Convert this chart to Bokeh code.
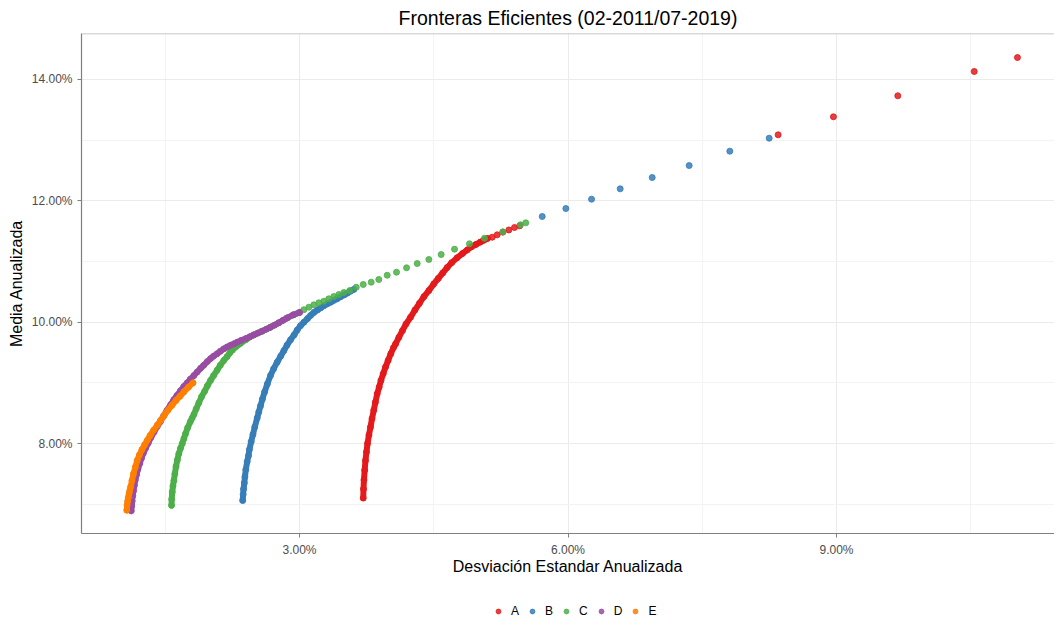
from bokeh.plotting import figure
from bokeh.layouts import column
from bokeh.models import (ColumnDataSource, FixedTicker, CustomJSTickFormatter,
                          Legend, LegendItem, Span, Range1d)
from bokeh.embed import file_html
from bokeh.resources import INLINE

# ---------------- data (annualised std dev %, annualised mean %) ----------------
series_names = ["A", "B", "C", "D", "E"]
series_colors = ["#E41A1C", "#377EB8", "#4DAF4A", "#984EA3", "#FF7F00"]

a_curve = [(3.712, 7.10), (3.715, 7.25), (3.72, 7.40), (3.728, 7.56), (3.737, 7.72),
           (3.748, 7.86), (3.76, 8.00), (3.776, 8.14), (3.793, 8.27), (3.81, 8.41),
           (3.83, 8.55), (3.848, 8.68), (3.868, 8.82), (3.89, 8.93), (3.91, 9.04),
           (3.935, 9.15), (3.961, 9.26), (3.99, 9.37), (4.02, 9.48), (4.05, 9.58),
           (4.073, 9.64), (4.11, 9.75), (4.15, 9.86), (4.19, 9.97), (4.24, 10.08),
           (4.29, 10.20), (4.34, 10.31), (4.39, 10.42), (4.445, 10.52), (4.50, 10.63),
           (4.55, 10.72), (4.60, 10.81), (4.65, 10.90), (4.70, 10.98), (4.76, 11.06),
           (4.82, 11.13), (4.874, 11.19), (4.92, 11.24), (4.97, 11.28), (5.02, 11.32),
           (5.059, 11.35), (5.10, 11.38)]
a_points = [(5.153, 11.40), (5.209, 11.44), (5.272, 11.484), (5.339, 11.52),
            (5.402, 11.56), (5.461, 11.588), (8.348, 13.088), (8.966, 13.385),
            (9.685, 13.731), (10.539, 14.132), (11.022, 14.362)]

b_curve = [(2.365, 7.06), (2.37, 7.16), (2.375, 7.25), (2.383, 7.35), (2.39, 7.45),
           (2.40, 7.57), (2.415, 7.70), (2.43, 7.80), (2.44, 7.90), (2.46, 8.03),
           (2.48, 8.15), (2.50, 8.27), (2.527, 8.42), (2.545, 8.52), (2.564, 8.62),
           (2.585, 8.73), (2.61, 8.85), (2.64, 8.98), (2.676, 9.12), (2.71, 9.23),
           (2.75, 9.34), (2.79, 9.44), (2.825, 9.53), (2.86, 9.62), (2.90, 9.71),
           (2.94, 9.79), (2.974, 9.87), (3.01, 9.94), (3.05, 10.00), (3.09, 10.06),
           (3.123, 10.11), (3.16, 10.16), (3.20, 10.20), (3.235, 10.235), (3.272, 10.27),
           (3.31, 10.30), (3.35, 10.33), (3.385, 10.36), (3.42, 10.385), (3.46, 10.42),
           (3.50, 10.45), (3.535, 10.48), (3.57, 10.51), (3.607, 10.54)]
b_points = [(5.712, 11.742), (5.976, 11.873), (6.263, 12.027), (6.583, 12.198),
            (6.941, 12.384), (7.354, 12.582), (7.808, 12.818), (8.248, 13.032)]

c_curve = [(1.570, 6.98), (1.572, 7.08), (1.578, 7.20), (1.586, 7.30), (1.596, 7.39),
           (1.607, 7.50), (1.62, 7.62), (1.635, 7.73), (1.651, 7.83), (1.67, 7.92),
           (1.69, 8.00), (1.708, 8.08), (1.726, 8.16), (1.75, 8.26), (1.78, 8.36),
           (1.80, 8.42), (1.82, 8.48), (1.845, 8.57), (1.875, 8.67), (1.905, 8.77),
           (1.94, 8.86), (1.97, 8.95), (2.006, 9.04), (2.04, 9.12), (2.08, 9.21),
           (2.115, 9.29), (2.154, 9.37), (2.19, 9.43), (2.22, 9.49), (2.25, 9.54),
           (2.285, 9.59), (2.31, 9.62), (2.34, 9.65), (2.40, 9.71), (2.489, 9.79),
           (2.58, 9.85), (2.676, 9.917), (2.77, 9.99), (2.862, 10.07), (2.93, 10.12),
           (3.0, 10.16)]
c_points = [(3.048, 10.204), (3.104, 10.247), (3.160, 10.286), (3.216, 10.319),
            (3.272, 10.346), (3.327, 10.385), (3.383, 10.423), (3.439, 10.456),
            (3.495, 10.489), (3.562, 10.522), (3.634, 10.576), (3.712, 10.621),
            (3.801, 10.659), (3.886, 10.703), (3.980, 10.774), (4.084, 10.823),
            (4.196, 10.896), (4.315, 10.967), (4.445, 11.033), (4.583, 11.115),
            (4.732, 11.203), (4.899, 11.292), (5.067, 11.384), (5.272, 11.489),
            (5.469, 11.605), (5.528, 11.638)]

d_curve = [(1.12, 6.89), (1.125, 6.97), (1.13, 7.05), (1.137, 7.14), (1.145, 7.22),
           (1.155, 7.31), (1.165, 7.40), (1.18, 7.49), (1.195, 7.58), (1.215, 7.67),
           (1.235, 7.76), (1.255, 7.84), (1.28, 7.92), (1.31, 8.01), (1.34, 8.10),
           (1.375, 8.19), (1.41, 8.28), (1.445, 8.36), (1.48, 8.45), (1.52, 8.55),
           (1.56, 8.64), (1.595, 8.72), (1.63, 8.79), (1.67, 8.87), (1.707, 8.94),
           (1.745, 9.00), (1.78, 9.06), (1.82, 9.12), (1.857, 9.18), (1.895, 9.24),
           (1.93, 9.29), (1.97, 9.35), (2.006, 9.40), (2.04, 9.44), (2.08, 9.48),
           (2.115, 9.52), (2.154, 9.56), (2.19, 9.59), (2.23, 9.62), (2.27, 9.645),
           (2.304, 9.67), (2.35, 9.70), (2.40, 9.73), (2.445, 9.76), (2.489, 9.79),
           (2.535, 9.82), (2.58, 9.85), (2.63, 9.885), (2.676, 9.917), (2.72, 9.95),
           (2.77, 9.99), (2.815, 10.03), (2.862, 10.07), (2.93, 10.12), (3.0, 10.16)]
d_points = []

e_curve = [(1.07, 6.90), (1.073, 6.98), (1.08, 7.05), (1.087, 7.11), (1.095, 7.17),
           (1.103, 7.22), (1.112, 7.28), (1.128, 7.39), (1.145, 7.50), (1.165, 7.61),
           (1.186, 7.72), (1.21, 7.81), (1.24, 7.90), (1.27, 7.98), (1.298, 8.05),
           (1.33, 8.13), (1.37, 8.22), (1.41, 8.30), (1.447, 8.38), (1.49, 8.47),
           (1.53, 8.55), (1.575, 8.63), (1.62, 8.71), (1.665, 8.78), (1.707, 8.85),
           (1.76, 8.93), (1.81, 9.00)]
e_points = []

x_ticks = [3, 6, 9]
x_minor = [1.5, 4.5, 7.5, 10.5]
y_ticks = [8, 10, 12, 14]
y_minor = [7, 9, 11, 13]

curves = [a_curve, b_curve, c_curve, d_curve, e_curve]
points = [a_points, b_points, c_points, d_points, e_points]

# ---------------- main figure ----------------
FONT = "Liberation Sans"
p = figure(width=1054, height=590, output_backend="svg", toolbar_location=None,
           x_range=Range1d(0.564, 11.436), y_range=Range1d(6.5166, 14.758),
           min_border_left=81, min_border_right=0, min_border_top=33,
           min_border_bottom=57)
p.outline_line_color = None
p.background_fill_color = "white"
p.border_fill_color = "white"

p.title.text = "Fronteras Eficientes (02-2011/07-2019)"
p.title.align = "center"
p.title.text_font = FONT
p.title.text_font_size = "19.5px"
p.title.text_font_style = "normal"
p.title.text_color = "#000000"
p.title.standoff = 9

fmt = CustomJSTickFormatter(code="return tick.toFixed(2) + '%'")
p.xaxis.ticker = FixedTicker(ticks=x_ticks, minor_ticks=x_minor)
p.yaxis.ticker = FixedTicker(ticks=y_ticks, minor_ticks=y_minor)
for ax in (p.xaxis, p.yaxis):
    ax.formatter = fmt
    ax.axis_line_color = "#7F7F7F"
    ax.axis_line_width = 1.2
    ax.major_tick_line_color = "#7F7F7F"
    ax.major_tick_out = 4
    ax.major_tick_in = 0
    ax.minor_tick_line_color = None
    ax.major_label_text_font = FONT
    ax.major_label_text_font_size = "12px"
    ax.major_label_text_color = "#4D4D4D"
    ax.axis_label_text_font = FONT
    ax.axis_label_text_font_size = "16px"
    ax.axis_label_text_font_style = "normal"
    ax.axis_label_text_color = "#000000"
p.xaxis.axis_label = "Desviación Estandar Anualizada"
p.yaxis.axis_label = "Media Anualizada"
p.xaxis.axis_label_standoff = -2
p.yaxis.axis_label_standoff = 4
p.xaxis.major_label_standoff = 5
p.yaxis.major_label_standoff = 5

p.xgrid.grid_line_color = "#EBEBEB"
p.ygrid.grid_line_color = "#EBEBEB"
p.xgrid.minor_grid_line_color = "#F3F3F3"
p.ygrid.minor_grid_line_color = "#F3F3F3"

top_border = Span(location=14.758, dimension="width", line_color="#B3B3B3", line_width=1.5)
p.add_layout(top_border)

for name, color, curve, pts in zip(series_names, series_colors, curves, points):
    cx = [c[0] for c in curve]
    cy = [c[1] for c in curve]
    p.line(cx, cy, line_color=color, line_width=6, line_cap="round", line_join="round")
    allp = curve + pts
    src = ColumnDataSource(dict(x=[q[0] for q in allp], y=[q[1] for q in allp]))
    p.scatter("x", "y", source=src, size=6, fill_color=color, line_color=color,
              fill_alpha=0.85, line_alpha=0.85)

# ---------------- legend strip ----------------
lg = figure(width=1054, height=30, output_backend="svg", toolbar_location=None,
            x_range=Range1d(0, 1), y_range=Range1d(0, 1),
            min_border_left=0, min_border_right=0, min_border_top=0, min_border_bottom=0)
lg.axis.visible = False
lg.grid.visible = False
lg.outline_line_color = None
lg.background_fill_color = "white"
lg.border_fill_color = "white"
items = []
for name, color, curve in zip(series_names, series_colors, curves):
    # key glyph renderer: its data sits outside this strip's visible range
    r = lg.scatter(x=[curve[0][0]], y=[curve[0][1]], size=6, fill_color=color,
                   line_color=color, fill_alpha=0.85, line_alpha=0.85)
    items.append(LegendItem(label=name, renderers=[r]))
legend = Legend(items=items, orientation="horizontal", location=(411, 2),
                padding=0, margin=0, spacing=7, glyph_width=12, glyph_height=12,
                label_width=8, label_height=12,
                label_standoff=7, label_text_font=FONT, label_text_font_size="12px",
                label_text_color="#000000", background_fill_alpha=0,
                border_line_color=None)
lg.add_layout(legend, "center")

open("out.html", "w").write(file_html(column(p, lg, spacing=0), INLINE))
